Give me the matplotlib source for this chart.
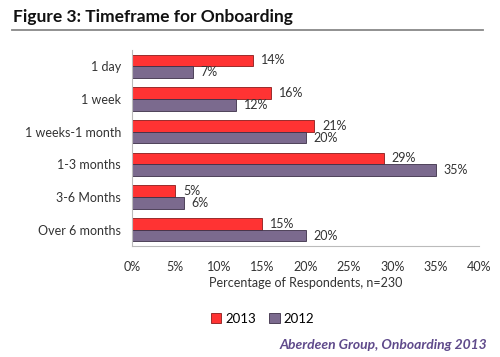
import numpy as np
import matplotlib.pyplot as plt

categories = ["1 day", "1 week", "1 weeks-1 month", "1-3 months", "3-6 Months", "Over 6 months"]
vals_2013 = [14, 16, 21, 29, 5, 15]
vals_2012 = [7, 12, 20, 35, 6, 20]
ticks = [0, 5, 10, 15, 20, 25, 30, 35, 40]

plt.rcParams['font.family'] = ['Lato', 'DejaVu Sans']

fig = plt.figure(figsize=(5, 3.57), dpi=100)
ax = fig.add_axes([0.264, 0.311, 0.694, 0.549])

red = '#ff3333'
purple = '#7b6a8e'
h = 0.36
y = np.arange(len(categories))

b1 = ax.barh(y - h / 2, vals_2013, height=h, color=red, edgecolor='#8b1a1a', linewidth=0.6, label='2013')
b2 = ax.barh(y + h / 2, vals_2012, height=h, color=purple, edgecolor='#3d3048', linewidth=0.6, label='2012')

# étiquettes de valeurs au bout des barres
for yy, v in zip(y - h / 2, vals_2013):
    ax.text(v + 0.9, yy, f"{v}%", va='center', ha='left', fontsize=9, color='#333333')
for yy, v in zip(y + h / 2, vals_2012):
    ax.text(v + 0.9, yy, f"{v}%", va='center', ha='left', fontsize=9, color='#333333')

ax.set_xlim(0, 40)
ax.set_ylim(len(categories) - 0.5, -0.5)
ax.set_xticks(ticks)
ax.set_xticklabels([f"{t}%" for t in ticks], fontsize=9, color='#333333')
ax.set_yticks(y)
ax.set_yticklabels(categories, fontsize=9, color='#333333')
ax.tick_params(length=0, pad=11)
ax.tick_params(axis='y', pad=8)
for s in ['top', 'right']:
    ax.spines[s].set_visible(False)
ax.spines['left'].set_color('#bbbbbb')
ax.spines['bottom'].set_color('#bbbbbb')
ax.set_xlabel("Percentage of Respondents, n=230", fontsize=9, color='#333333', labelpad=3)

fig.legend(handles=[b1, b2], loc='center', bbox_to_anchor=(0.525, 0.107), ncol=2, frameon=False,
           fontsize=9.5, handlelength=0.8, handleheight=0.8, handletextpad=0.3, columnspacing=1.0)

fig.text(0.026, 0.952, "Figure 3: Timeframe for Onboarding", fontsize=12.5, fontweight='bold', va='center', color='#111111')
fig.add_artist(plt.Line2D([0.024, 0.966], [0.916, 0.916], color='#888888', linewidth=1.3))
fig.text(0.974, 0.035, "Aberdeen Group, Onboarding 2013", fontsize=10, style='italic', fontweight='bold',
         color='#5f4a8b', ha='right', va='center')

fig.savefig("out.png", dpi=100)
